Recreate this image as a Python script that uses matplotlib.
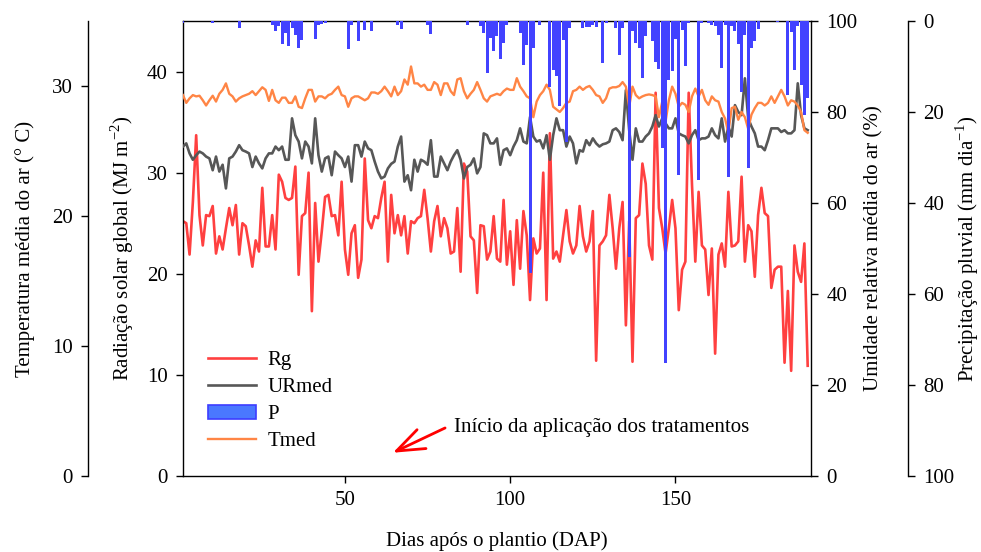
import numpy as np
import matplotlib
matplotlib.use("Agg")
import matplotlib.pyplot as plt
from matplotlib.lines import Line2D
from matplotlib.patches import Patch

plt.rcParams['font.family'] = ['Liberation Serif', 'DejaVu Serif']
plt.rcParams['font.size'] = 15
plt.rcParams['mathtext.fontset'] = 'custom'
plt.rcParams['mathtext.rm'] = 'Liberation Serif'

# dias apos o plantio
dap = np.arange(1, 191)

# radiacao solar global (MJ m-2)
rg = [25.2, 25.0, 21.9, 27.1, 33.7, 25.8, 22.8, 25.8, 25.7, 26.7,
      22.0, 23.7, 22.4, 24.5, 26.5, 24.8, 26.8, 21.9, 25.0, 24.7,
      22.8, 20.7, 23.3, 22.2, 28.5, 22.7, 22.7, 25.8, 22.4, 29.8,
      29.1, 27.5, 27.3, 27.5, 30.6, 19.9, 25.7, 26.0, 30.0, 16.3,
      27.0, 21.2, 24.2, 27.6, 27.8, 25.7, 25.8, 23.8, 29.1, 22.4,
      19.9, 24.0, 24.8, 19.6, 21.4, 31.4, 25.3, 24.5, 25.7, 25.5,
      27.5, 29.1, 21.2, 27.8, 24.0, 25.8, 23.8, 25.7, 22.0, 25.2,
      25.0, 25.5, 25.7, 28.3, 25.5, 22.2, 25.2, 26.7, 23.7, 25.5,
      24.5, 22.0, 22.2, 26.5, 20.2, 30.9, 30.1, 23.7, 23.3, 18.1,
      24.8, 24.7, 21.4, 22.2, 25.7, 21.5, 21.2, 27.3, 20.9, 24.2,
      18.9, 25.3, 20.5, 26.2, 23.8, 17.4, 23.5, 22.0, 22.5, 30.0,
      17.4, 33.9, 21.5, 22.2, 21.2, 23.8, 26.3, 23.2, 22.0, 22.8,
      26.7, 23.7, 22.2, 23.2, 26.2, 11.4, 22.8, 23.2, 23.8, 27.8,
      24.5, 20.5, 24.5, 27.1, 14.9, 25.2, 11.3, 25.5, 25.8, 30.9,
      28.9, 22.8, 21.4, 37.9, 26.5, 24.5, 22.0, 24.5, 27.3, 24.5,
      16.4, 20.4, 21.2, 37.9, 28.8, 21.2, 28.1, 22.8, 22.4, 17.9,
      22.5, 12.1, 21.9, 23.0, 20.7, 28.1, 22.7, 22.8, 23.2, 29.6,
      21.2, 24.8, 24.2, 19.7, 25.8, 28.5, 26.0, 25.7, 18.6, 20.4,
      20.7, 20.7, 11.2, 18.3, 10.4, 22.8, 20.2, 19.2, 23.0, 10.9]

# umidade relativa media (%)
urmed = [72.4, 73.1, 70.9, 69.5, 70.5, 71.3, 70.9, 70.2, 69.8, 67.2,
         70.2, 66.9, 68.4, 63.2, 69.8, 70.2, 71.3, 72.7, 71.6, 71.3,
         70.9, 67.9, 70.2, 68.7, 67.6, 69.8, 70.9, 70.9, 72.4, 71.6,
         72.4, 69.5, 69.5, 78.6, 74.9, 73.5, 69.8, 73.5, 72.4, 68.7,
         78.6, 70.5, 66.9, 69.8, 70.2, 66.1, 71.3, 70.5, 69.8, 67.9,
         70.2, 64.7, 72.7, 72.7, 70.2, 73.5, 72.0, 71.6, 69.1, 66.9,
         65.4, 65.8, 67.6, 68.6, 69.1, 72.4, 74.6, 64.7, 66.1, 62.8,
         69.5, 66.9, 69.5, 69.1, 68.4, 73.8, 65.8, 65.8, 70.2, 68.7,
         67.2, 69.1, 70.5, 71.6, 69.5, 65.4, 67.9, 68.4, 69.8, 66.5,
         67.9, 75.3, 74.9, 73.1, 73.1, 74.2, 68.4, 71.6, 72.0, 70.5,
         72.4, 73.8, 76.4, 73.5, 73.1, 78.9, 74.6, 73.5, 73.8, 72.0,
         74.9, 69.5, 74.9, 78.6, 76.0, 76.0, 72.4, 74.6, 73.1, 68.7,
         71.6, 71.3, 73.8, 72.7, 74.2, 73.1, 72.4, 72.9, 73.1, 73.5,
         76.0, 76.4, 75.6, 73.8, 84.8, 76.0, 69.5, 76.4, 73.5, 73.5,
         74.6, 75.3, 76.8, 79.3, 76.8, 78.6, 77.5, 76.4, 76.4, 78.6,
         75.3, 74.9, 74.6, 73.1, 74.9, 76.0, 73.8, 74.2, 74.2, 74.6,
         76.4, 74.9, 74.2, 78.6, 73.5, 76.8, 74.6, 81.5, 80.0, 79.3,
         87.4, 78.6, 76.8, 75.3, 72.4, 72.4, 71.6, 73.8, 76.4, 76.4,
         76.4, 75.6, 76.0, 75.3, 75.3, 76.0, 86.3, 79.3, 76.4, 76.0]

# temperatura media do ar (C)
tmed = [29.3, 28.7, 29.05, 29.3, 29.2, 29.25, 28.9, 28.5, 28.9, 29.25,
        28.8, 29.4, 29.7, 30.2, 29.4, 29.2, 28.8, 29.05, 29.2, 29.3,
        29.4, 29.6, 29.3, 29.6, 29.9, 29.7, 28.85, 29.7, 28.9, 28.7,
        29.1, 29.1, 28.7, 28.7, 29.2, 28.4, 28.3, 29.05, 29.7, 29.7,
        28.8, 29.2, 29.2, 29.05, 29.3, 29.4, 29.7, 29.95, 29.3, 29.2,
        28.4, 29.05, 29.2, 29.2, 29.05, 28.9, 29.05, 29.5, 29.5, 29.4,
        29.6, 29.95, 29.6, 29.2, 29.95, 29.3, 29.6, 30.5, 30.1, 31.5,
        30.2, 30.2, 29.95, 30.1, 29.7, 29.7, 30.3, 30.1, 29.3, 30.2,
        30.2, 29.6, 29.3, 30.5, 30.6, 29.6, 29.05, 29.4, 29.7, 30.3,
        29.7, 29.05, 28.8, 29.2, 29.3, 29.4, 29.3, 29.6, 29.8, 29.7,
        29.7, 30.6, 29.95, 29.6, 29.2, 29.05, 27.6, 28.8, 29.3, 29.6,
        30.1, 29.7, 28.4, 28.2, 28.0, 28.3, 28.7, 28.8, 29.6, 29.7,
        29.95, 29.7, 29.9, 30.0, 29.7, 29.3, 29.2, 28.7, 29.05, 29.8,
        29.9, 29.9, 30.0, 30.3, 29.95, 28.4, 29.95, 29.3, 29.05, 29.2,
        29.3, 29.35, 29.3, 29.2, 27.6, 28.8, 27.25, 28.9, 29.95, 29.4,
        28.4, 28.7, 28.55, 28.0, 29.2, 29.8, 29.2, 29.7, 28.9, 28.55,
        29.2, 28.9, 28.8, 28.0, 27.5, 26.4, 28.3, 28.4, 27.4, 28.0,
        27.6, 26.7, 27.8, 28.3, 28.7, 28.7, 28.5, 28.7, 29.2, 28.7,
        29.2, 29.7, 29.2, 28.5, 28.9, 28.8, 28.5, 28.0, 26.6, 26.4]

# precipitacao pluvial (mm dia-1)
prec = [0.5, 0, 0, 0, 0, 0, 0, 0, 0, 0.5,
        0, 0, 0, 0, 0, 0, 0, 1.6, 0, 0,
        0, 0, 0, 0, 0, 0, 0, 0.9, 2.3, 1.2,
        5.1, 2.7, 5.5, 1.6, 3.1, 5.9, 4.2, 0, 0, 0,
        4.0, 0.9, 0.7, 0.5, 0, 0, 0, 0, 0, 0,
        6.1, 0.8, 0, 4.5, 0, 2.0, 0, 2.2, 0, 0,
        0, 0, 0, 0, 0, 0.9, 1.8, 0, 0, 0,
        0, 0, 0, 0, 0.9, 2.9, 0, 0, 0, 0,
        0, 0, 0, 0, 0, 0, 0.9, 0, 0, 0,
        1.2, 2.7, 11.5, 3.8, 6.6, 3.4, 8.3, 4.9, 0.9, 0,
        0, 0, 2.7, 9.7, 5.3, 55.3, 5.9, 0, 0.9, 0,
        0, 14.5, 10.8, 12.0, 18.7, 4.2, 26.5, 1.5, 0, 0,
        0, 1.5, 1.3, 1.3, 0.9, 1.3, 0, 9.3, 0.5, 0,
        0, 1.5, 7.5, 1.5, 0, 51.8, 2.3, 4.9, 5.9, 12.6,
        3.4, 0, 4.5, 9.0, 10.5, 28.0, 75.2, 13.0, 11.0, 4.0,
        33.8, 2.0, 10.0, 0.5, 0, 0, 35.0, 0.5, 0, 0.5,
        0.9, 1.2, 3.1, 10.4, 0.9, 34.3, 1.0, 2.3, 5.0, 15.6,
        3.0, 32.3, 6.0, 4.5, 1.8, 0, 0, 0, 0, 0,
        0.3, 0, 0, 16.3, 2.5, 10.8, 1.0, 14.0, 20.7, 17.0]

c_rg = '#ff4040'
c_ur = '#575757'
c_t = '#ff8545'
c_p = '#4242ff'

fig = plt.figure(figsize=(9.81, 5.52), dpi=100)
ax = fig.add_axes([0.1865, 0.1377, 0.6402, 0.8243])
ax_u = ax.twinx()
ax_t = ax.twinx()
ax_p = ax.twinx()

# radiacao (eixo principal)
ax.plot(dap, rg, color=c_rg, lw=1.9)
ax.set_xlim(1, 191)
ax.set_ylim(0, 45)
ax.set_yticks([0, 10, 20, 30, 40])
ax.set_xticks([50, 100, 150])
ax.set_xlabel('Dias após o plantio (DAP)', labelpad=15)
ax.set_ylabel(r'Radiação solar global (MJ m$^{\mathrm{-2}}$)')
ax.yaxis.set_label_coords(-0.075, 0.5)

# umidade
ax_u.plot(dap, urmed, color=c_ur, lw=1.9)
ax_u.set_ylim(0, 100)
ax_u.set_yticks([0, 20, 40, 60, 80, 100])
ax_u.set_ylabel('Umidade relativa média do ar (%)')
ax_u.yaxis.set_label_coords(1.085, 0.5)

# temperatura
ax_t.plot(dap, tmed, color=c_t, lw=1.7)
ax_t.set_ylim(0, 35)
ax_t.set_yticks([0, 10, 20, 30])
ax_t.yaxis.set_ticks_position('left')
ax_t.yaxis.set_label_position('left')
ax_t.spines['left'].set_position(('axes', -0.1513))
ax_t.set_ylabel('Temperatura média do ar (° C)')
ax_t.yaxis.set_label_coords(-0.236, 0.5)

# precipitacao
ax_p.bar(dap, prec, width=0.9, color=c_p, lw=0)
ax_p.set_ylim(100, 0)
ax_p.set_yticks([0, 20, 40, 60, 80, 100])
ax_p.spines['right'].set_position(('axes', 1.1545))
ax_p.set_ylabel(r'Precipitação pluvial (mm dia$^{\mathrm{-1}}$)')
ax_p.yaxis.set_label_coords(1.226, 0.5)

for a in [ax, ax_u, ax_t, ax_p]:
    for s in a.spines.values():
        s.set_visible(False)
        s.set_linewidth(1.0)
    a.tick_params(direction='out', length=5, width=1.0, pad=6, labelsize=15)

ax.spines['left'].set_visible(True)
ax.spines['bottom'].set_visible(True)
ax.spines['top'].set_visible(True)
ax_u.spines['right'].set_visible(True)
ax_t.spines['left'].set_visible(True)
ax_p.spines['right'].set_visible(True)

# seta e texto do inicio dos tratamentos
ax.annotate('', xy=(64.5, 2.3), xytext=(80.3, 4.75),
            arrowprops=dict(arrowstyle='->, head_length=0.8, head_width=0.3',
                            color='red', lw=2, mutation_scale=25,
                            shrinkA=0, shrinkB=0))
ax.text(83, 4.75, 'Início da aplicação dos tratamentos', va='center', ha='left',
        fontsize=15)

handles = [Line2D([], [], color=c_rg, lw=1.9),
           Line2D([], [], color=c_ur, lw=1.9),
           Patch(facecolor='#4a78ff', edgecolor='#3d3dff', lw=1.2),
           Line2D([], [], color=c_t, lw=1.7)]
ax_p.legend(handles, ['Rg', 'URmed', 'P', 'Tmed'], loc='upper left',
            bbox_to_anchor=(0.04, 0.275), frameon=False, borderpad=0,
            borderaxespad=0, handlelength=2.3, handletextpad=0.55,
            labelspacing=0.35, fontsize=15)

fig.savefig('out.png', dpi=100)
